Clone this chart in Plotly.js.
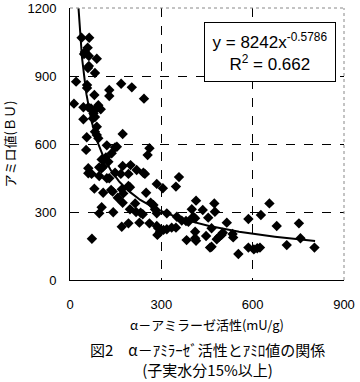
<!DOCTYPE html>
<html><head><meta charset="utf-8">
<script src="https://cdn.plot.ly/plotly-3.0.1.min.js"></script>
<style>body{margin:0;padding:0;background:#fff}#chart{width:360px;height:382px}</style>
</head><body><div id="chart"></div>
<script>
// α-amylase activity (mU/g)
const amylase = [38,63,58,49,46,62,88,62,59,82,20,56,56,168,203,129,129,80,243,13,44,60,69,93,88,101,44,77,75,82,88,82,88,93,55,173,53,121,148,154,137,261,255,104,118,109,126,60,60,71,96,104,109,96,121,129,148,173,199,167,192,219,241,246,80,109,135,140,157,170,175,192,197,173,250,285,305,214,197,265,274,96,104,142,217,232,279,285,192,170,228,261,285,290,287,307,318,334,348,72,351,348,358,414,400,405,411,436,474,476,454,367,381,389,411,383,411,414,447,465,460,465,482,490,498,502,515,534,536,553,586,586,604,615,624,627,655,679,712,752,757,803,239,318,296];
// amylograph value (BU)
const amylo = [1069,1069,1025,1006,997,988,976,944,935,913,875,860,847,866,850,838,812,816,800,778,762,762,757,771,757,753,709,735,713,719,676,654,640,625,630,644,574,594,585,588,559,581,551,532,541,529,522,493,471,468,497,493,500,459,449,449,473,503,507,468,468,485,473,468,403,385,397,390,363,400,382,415,409,341,385,424,405,338,312,341,331,294,321,299,300,297,312,294,250,235,253,250,238,228,199,221,224,231,231,182,279,412,454,350,312,279,272,309,338,301,275,262,260,257,213,176,184,173,194,228,143,147,180,191,199,209,253,203,188,115,269,143,135,140,143,287,338,238,154,250,184,143,290,294,213];
// power trendline shown on the chart: y = 8242 x^-0.5786, R^2 = 0.662
const fitA = 8242, fitB = -0.5786, fitR2 = 0.662;
const fitRange = [28, 805];
const xTicks = [0,300,600,900];
const yTicks = [0,300,600,900,1200];
const captionLines = ['図2　α－ｱﾐﾗｰｾﾞ活性とｱﾐﾛ値の関係', '(子実水分15%以上)'];

const fitX = [], fitY = [];
for (let i = 0; i <= 200; i++) {
  const x = fitRange[0] + (fitRange[1]-fitRange[0]) * Math.pow(i/200, 1.6);
  fitX.push(x); fitY.push(fitA * Math.pow(x, fitB));
}

const font = "'Liberation Sans', 'Noto Sans CJK JP', sans-serif";
const jfont = "'Noto Sans CJK JP', 'Liberation Sans', sans-serif";

const data = [
  {x: amylase, y: amylo, type: 'scatter', mode: 'markers',
   marker: {symbol: 'diamond', size: 8, color: '#000'}, hoverinfo: 'skip'},
  {x: fitX, y: fitY, type: 'scatter', mode: 'lines',
   line: {color: '#000', width: 2}, hoverinfo: 'skip'}
];

const layout = {
  width: 360, height: 382,
  margin: {l: 70, r: 16, t: 8, b: 102},
  paper_bgcolor: '#fff', plot_bgcolor: '#fff',
  showlegend: false,
  font: {family: font, color: '#000', size: 13},
  xaxis: {
    range: [0, 900], tickvals: xTicks, ticktext: xTicks.map(String),
    showline: true, linecolor: '#000', linewidth: 1,
    showgrid: true, gridcolor: '#000', gridwidth: 1, griddash: 'dash',
    zeroline: false, ticks: '', ticklabelstandoff: 12,
    tickfont: {size: 13, family: font},
    title: {text: 'α－アミラーゼ活性(mU/g)', font: {size: 13, family: jfont}, standoff: 10}
  },
  yaxis: {
    range: [0, 1200], tickvals: yTicks, ticktext: yTicks.map(String),
    showline: true, linecolor: '#000', linewidth: 1,
    showgrid: true, gridcolor: '#000', gridwidth: 1, griddash: 'dash',
    zeroline: false, ticks: '', ticklabelstandoff: 10,
    tickfont: {size: 13, family: font},
    title: {text: 'アミロ値(ＢＵ)', font: {size: 13, family: jfont}, standoff: 8}
  },
  shapes: [
    {type: 'line', xref: 'paper', yref: 'paper', x0: 0, x1: 1, y0: 1, y1: 1,
     line: {color: '#888', width: 1, dash: 'dot'}},
    {type: 'line', xref: 'paper', yref: 'paper', x0: 1, x1: 1, y0: 0, y1: 1,
     line: {color: '#888', width: 1, dash: 'dot'}}
  ],
  annotations: [
    {xref: 'paper', yref: 'paper', x: 0.73, y: 0.838, xanchor: 'center', yanchor: 'middle',
     text: 'y = ' + fitA + 'x<sup>' + fitB + '</sup><br>R<sup>2</sup> = ' + fitR2.toFixed(3),
     showarrow: false, bgcolor: '#fff', bordercolor: '#000', borderwidth: 1,
     width: 128, height: 56, align: 'center',
     font: {size: 17, family: font, color: '#000'}},
    {xref: 'paper', yref: 'paper', x: 0.5, y: -0.292, xanchor: 'center', yanchor: 'middle',
     text: captionLines.join('<br>'), showarrow: false, align: 'center',
     font: {size: 15, family: jfont, color: '#000'}}
  ]
};

Plotly.newPlot('chart', data, layout, {staticPlot: true, displayModeBar: false});
</script>
</body></html>
